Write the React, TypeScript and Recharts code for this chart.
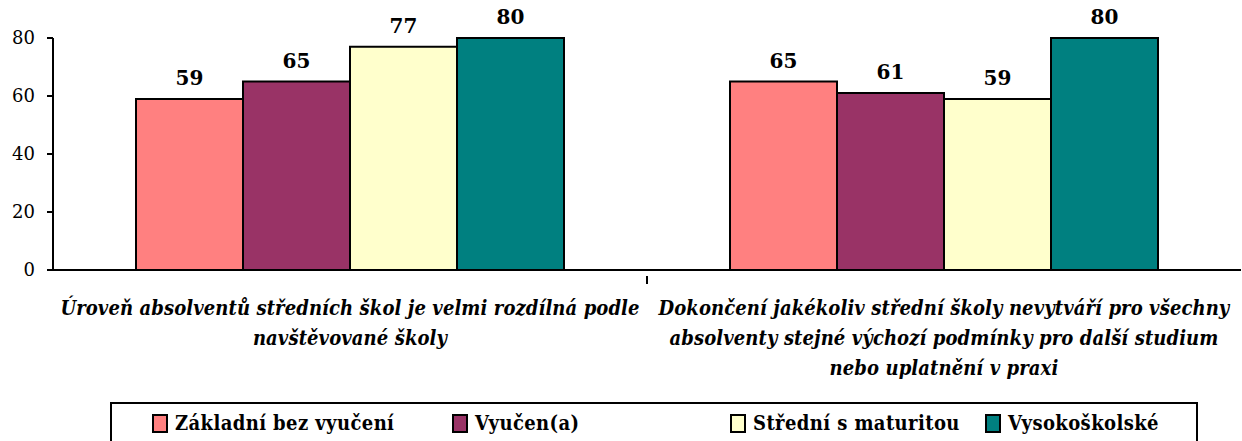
import React from 'react';
import { BarChart, Bar, XAxis, YAxis, LabelList } from 'recharts';

const categories = [
  'Úroveň absolventů středních škol je velmi rozdílná podle\nnavštěvované školy',
  'Dokončení jakékoliv střední školy nevytváří pro všechny\nabsolventy stejné výchozí podmínky pro další studium\nnebo uplatnění v praxi',
];
const zakladni = [59, 65];
const vyucen = [65, 61];
const stredni = [77, 59];
const vysoko = [80, 80];
const yTicks = [0, 20, 40, 60, 80];

const SERIES = [
  { key: 'zakladni', name: 'Základní bez vyučení', color: '#FF8080', values: zakladni },
  { key: 'vyucen', name: 'Vyučen(a)', color: '#993366', values: vyucen },
  { key: 'stredni', name: 'Střední s maturitou', color: '#FFFFCC', values: stredni },
  { key: 'vysoko', name: 'Vysokoškolské', color: '#008080', values: vysoko },
];

const data = categories.map((cat, i) => {
  const row: Record<string, string | number> = { category: cat };
  SERIES.forEach((s) => {
    row[s.key] = s.values[i];
  });
  return row;
});

const SERIF = "'DejaVu Serif', serif";
const NARROW = "'DejaVu Serif Condensed', 'DejaVu Serif', serif";

// legend item widths, Excel spreads them unevenly
const LEGEND_WIDTHS = [300, 278, 255, 180];

const CategoryTick = (props: any) => {
  const { x, y, payload, index } = props;
  const lines = String(payload.value).split('\n');
  const half = payload.offset ?? 297;
  return (
    <g>
      {index === 0 && (
        <line x1={x + half} y1={y} x2={x + half} y2={y + 8} stroke="#000" strokeWidth={2} />
      )}
      <text
        x={x}
        y={y}
        textAnchor="middle"
        style={{
          fontFamily: NARROW,
          fontStretch: 'condensed',
          fontSize: 20,
          fontWeight: 'bold',
          fontStyle: 'italic',
          letterSpacing: 0.1,
        }}
        fill="#000"
      >
        {lines.map((line, i) => (
          <tspan key={i} x={x} dy={i === 0 ? 39 : 30}>
            {line}
          </tspan>
        ))}
      </text>
    </g>
  );
};

const LegendBox = () => (
  <div
    style={{
      position: 'absolute',
      left: 110,
      top: 402,
      width: 1088,
      height: 60,
      border: '2px solid #000',
      boxSizing: 'border-box',
      background: '#fff',
      display: 'flex',
      paddingLeft: 40,
      paddingTop: 9,
      fontFamily: NARROW,
      fontStretch: 'condensed',
      fontWeight: 'bold',
      fontSize: 20,
      letterSpacing: 0.4,
    }}
  >
    {SERIES.map((s, i) => (
      <div key={s.key} style={{ width: LEGEND_WIDTHS[i], display: 'flex', alignItems: 'center', height: 20 }}>
        <span
          style={{
            display: 'inline-block',
            width: 16,
            height: 19,
            background: s.color,
            border: '2px solid #000',
            boxSizing: 'border-box',
            marginRight: 7,
          }}
        />
        <span style={{ whiteSpace: 'nowrap', lineHeight: '20px' }}>{s.name}</span>
      </div>
    ))}
  </div>
);

export default function App() {
  return (
    <div
      style={{
        position: 'absolute',
        left: 0,
        top: 0,
        width: 1242,
        height: 441,
        overflow: 'hidden',
        background: '#fff',
      }}
    >
      <BarChart
        width={1242}
        height={441}
        data={data}
        margin={{ top: 38, right: 1, left: 0, bottom: 0 }}
        barCategoryGap={83}
        barGap={0}
      >
        <XAxis
          dataKey="category"
          height={171}
          axisLine={{ stroke: '#000', strokeWidth: 2 }}
          tickLine={false}
          tickMargin={0}
          interval={0}
          tick={<CategoryTick />}
        />
        <YAxis
          width={53}
          domain={[0, 80]}
          ticks={yTicks}
          axisLine={{ stroke: '#000', strokeWidth: 2 }}
          tickLine={{ stroke: '#000', strokeWidth: 2 }}
          tickSize={6}
          tickMargin={12}
          tick={{ fontFamily: SERIF, fontSize: 18, fill: '#000' }}
        />
        {SERIES.map((s) => (
          <Bar
            key={s.key}
            dataKey={s.key}
            name={s.name}
            fill={s.color}
            stroke="#000"
            strokeWidth={2}
            isAnimationActive={false}
          >
            <LabelList
              dataKey={s.key}
              position="top"
              offset={14}
              fontFamily={SERIF}
              fontSize={20}
              fontWeight="bold"
              fill="#000"
            />
          </Bar>
        ))}
      </BarChart>
      <LegendBox />
    </div>
  );
}
